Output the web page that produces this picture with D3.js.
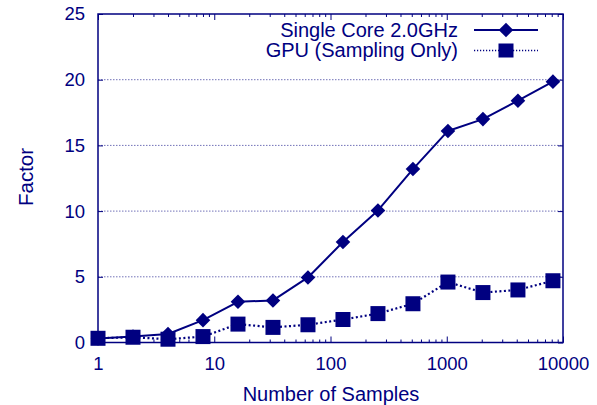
<!DOCTYPE html>
<html>
<head>
<meta charset="utf-8">
<script src="https://cdn.jsdelivr.net/npm/d3@7"></script>
<style>
  body { margin: 0; background: #fff; }
  text { font-family: "Liberation Sans", Arial, sans-serif; }
</style>
</head>
<body>
<div id="chart"></div>
<script>
// number of samples (log axis)
const samples = [1, 2, 4, 8, 16, 32, 64, 128, 256, 512, 1024, 2048, 4096, 8192];
const singleCore = [0.3, 0.45, 0.65, 1.7, 3.1, 3.2, 4.95, 7.65, 10.05, 13.2, 16.1, 17.0, 18.4, 19.85];
const gpuSampling = [0.32, 0.4, 0.25, 0.45, 1.4, 1.15, 1.35, 1.75, 2.2, 2.95, 4.6, 3.8, 4.0, 4.7];
const seriesNames = ["Single Core 2.0GHz", "GPU (Sampling Only)"];
const xTicks = [1, 10, 100, 1000, 10000];
const yTicks = [0, 5, 10, 15, 20, 25];

let width = 597;
let height = 405;
let margin = ({ top: 14, right: 34, bottom: 62.5, left: 98 });
let navy = "#000080";

let x = d3.scaleLog()
    .domain([1, 10000])
    .range([margin.left, width - margin.right]);

let y = d3.scaleLinear()
    .domain([0, 25])
    .range([height - margin.bottom, margin.top]);

let minor = [];
for (let p = 1; p < 10000; p *= 10)
    for (let k = 2; k < 10; k++) minor.push(p * k);

let svg = d3.select("#chart")
    .append("svg")
    .attr("width", width)
    .attr("height", height)
    .attr("viewBox", [0, 0, width, height]);

// grid
svg.append("g")
    .attr("stroke", navy)
    .attr("stroke-width", 0.8)
    .attr("stroke-opacity", 0.7)
    .attr("stroke-dasharray", "1.5,1.5")
    .selectAll("line")
    .data(yTicks.filter(d => d > 0 && d < 25))
    .join("line")
    .attr("x1", margin.left)
    .attr("x2", width - margin.right)
    .attr("y1", d => y(d))
    .attr("y2", d => y(d));

let plain = g => g
    .call(g => g.select(".domain").remove())
    .call(g => g.selectAll(".tick line").attr("stroke", navy));

// bottom
svg.append("g")
    .attr("transform", `translate(0,${y(0)})`)
    .call(d3.axisBottom(x).tickValues(minor).tickSize(-3).tickFormat(""))
    .call(plain);
svg.append("g")
    .attr("transform", `translate(0,${y(0)})`)
    .call(d3.axisBottom(x).tickValues(xTicks).tickSize(-6).tickPadding(14.4).tickFormat(d3.format("d")))
    .call(plain)
    .call(g => g.selectAll("text")
        .attr("fill", navy)
        .attr("font-size", 18.5)
        .attr("font-family", null));

// top
svg.append("g")
    .attr("transform", `translate(0,${y(25)})`)
    .call(d3.axisTop(x).tickValues(minor).tickSize(-3).tickFormat(""))
    .call(plain);
svg.append("g")
    .attr("transform", `translate(0,${y(25)})`)
    .call(d3.axisTop(x).tickValues(xTicks).tickSize(-6).tickFormat(""))
    .call(plain);

// left
svg.append("g")
    .attr("transform", `translate(${margin.left},0)`)
    .call(d3.axisLeft(y).tickValues(yTicks).tickSize(-5).tickPadding(13))
    .call(plain)
    .call(g => g.selectAll("text")
        .attr("fill", navy)
        .attr("font-size", 18.5)
        .attr("font-family", null));

// right
svg.append("g")
    .attr("transform", `translate(${width - margin.right},0)`)
    .call(d3.axisRight(y).tickValues(yTicks).tickSize(-5).tickFormat(""))
    .call(plain);

// frame
svg.append("rect")
    .attr("x", margin.left)
    .attr("y", margin.top)
    .attr("width", width - margin.left - margin.right)
    .attr("height", height - margin.top - margin.bottom)
    .attr("fill", "none")
    .attr("stroke", navy)
    .attr("stroke-width", 1.5);

// axis titles
svg.append("text")
    .attr("x", 331)
    .attr("y", 401)
    .attr("text-anchor", "middle")
    .attr("font-size", 20)
    .attr("fill", navy)
    .text("Number of Samples");

svg.append("text")
    .attr("transform", "translate(26,177) rotate(-90)")
    .attr("text-anchor", "middle")
    .attr("dy", "0.36em")
    .attr("font-size", 20.5)
    .attr("fill", navy)
    .text("Factor");

let line = d3.line()
    .x((d, i) => x(samples[i]))
    .y(d => y(d));

let diamond = "M0,-7.3L7.3,0L0,7.3L-7.3,0Z";
let sq = 7.5;

// GPU series
svg.append("path")
    .datum(gpuSampling)
    .attr("fill", "none")
    .attr("stroke", navy)
    .attr("stroke-width", 2.2)
    .attr("stroke-dasharray", "2,2.5")
    .attr("d", line);

// single core series
svg.append("path")
    .datum(singleCore)
    .attr("fill", "none")
    .attr("stroke", navy)
    .attr("stroke-width", 2)
    .attr("stroke-linejoin", "round")
    .attr("d", line);

svg.append("g")
    .attr("fill", navy)
    .selectAll("path")
    .data(singleCore)
    .join("path")
    .attr("transform", (d, i) => `translate(${x(samples[i])},${y(d)})`)
    .attr("d", diamond);

svg.append("g")
    .attr("fill", navy)
    .selectAll("rect")
    .data(gpuSampling)
    .join("rect")
    .attr("x", (d, i) => x(samples[i]) - sq)
    .attr("y", d => y(d) - sq)
    .attr("width", sq * 2)
    .attr("height", sq * 2);

// legend
let legend = svg.append("g");
let rows = [
    { name: seriesNames[0], y: 30, base: 36.8, dash: null, w: 2, mark: "diamond" },
    { name: seriesNames[1], y: 50.5, base: 56.8, dash: "1.2,1.8", w: 1.5, mark: "square" }
];
rows.forEach(r => {
    legend.append("text")
        .attr("x", 458)
        .attr("y", r.base)
        .attr("text-anchor", "end")
        .attr("font-size", 20)
        .attr("fill", navy)
        .text(r.name);
    legend.append("line")
        .attr("x1", 474).attr("x2", 538)
        .attr("y1", r.y).attr("y2", r.y)
        .attr("stroke", navy)
        .attr("stroke-width", r.w)
        .attr("stroke-dasharray", r.dash);
    if (r.mark === "diamond") {
        legend.append("path")
            .attr("transform", `translate(506,${r.y})`)
            .attr("d", diamond)
            .attr("fill", navy);
    } else {
        legend.append("rect")
            .attr("x", 506 - 7.5).attr("y", r.y - 7)
            .attr("width", 15).attr("height", 14)
            .attr("fill", navy);
    }
});
</script>
</body>
</html>
